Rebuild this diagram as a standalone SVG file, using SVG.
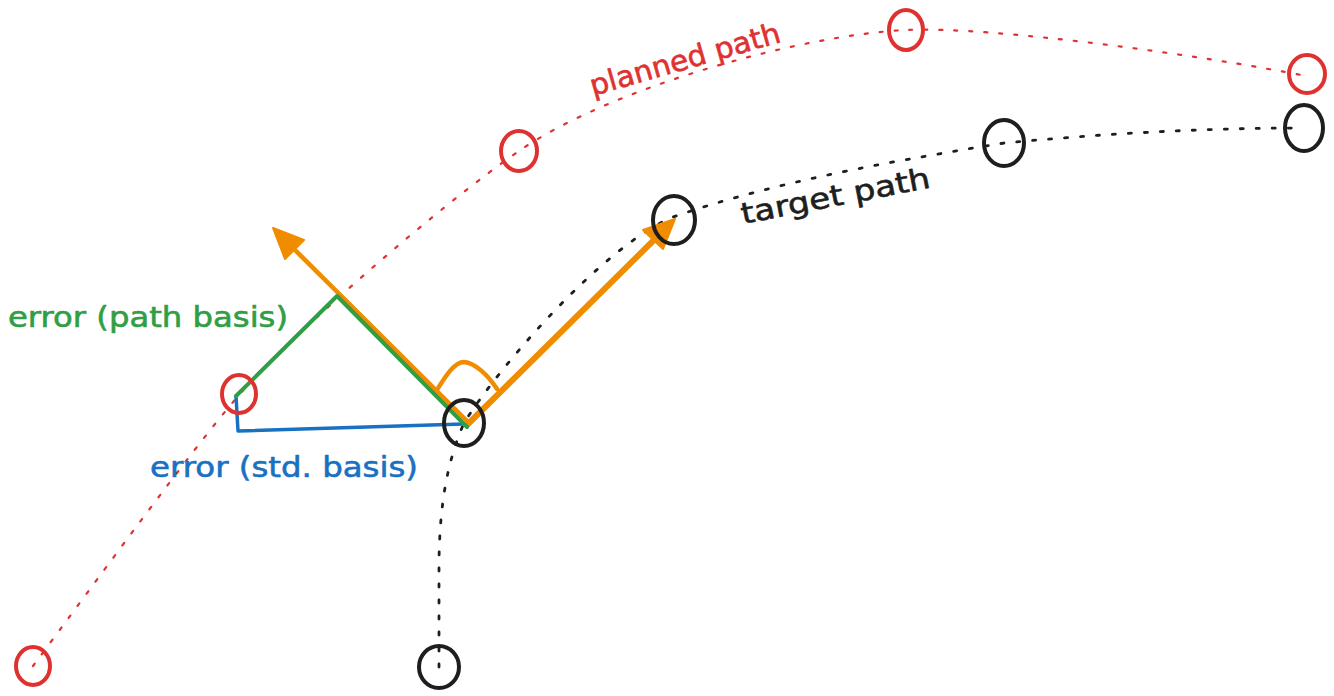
<svg xmlns="http://www.w3.org/2000/svg" width="1334" height="696" viewBox="0 0 1334 696">
  <style>
    .bg { fill: #ffffff; }
    .planned { fill: none; stroke: #e03131; stroke-width: 2.2; stroke-dasharray: 3 12; stroke-linecap: round; }
    .target { fill: none; stroke: #1e1e1e; stroke-width: 2.8; stroke-dasharray: 3 13; stroke-linecap: round; }
    .wp-red { fill: none; stroke: #e03131; stroke-width: 4; }
    .wp-black { fill: none; stroke: #1e1e1e; stroke-width: 4; }
    .err-std { fill: none; stroke: #1971c2; stroke-width: 3.5; stroke-linecap: round; stroke-linejoin: round; }
    .err-path { fill: none; stroke: #2f9e44; stroke-width: 4; stroke-linecap: round; stroke-linejoin: round; }
    .vec { fill: none; stroke: #f08c00; stroke-linecap: round; stroke-linejoin: round; }
    .head { fill: #f08c00; stroke: #f08c00; stroke-width: 2; stroke-linejoin: round; }
    .label { font-family: "DejaVu Sans", "Noto Sans", sans-serif; stroke-width: 0.6; stroke-linejoin: round; }
  </style>

  <rect class="bg" x="0" y="0" width="1334" height="696"/>

  <!-- connectors: paths, error components and basis vectors -->
  <g id="connectors">
    <path id="planned-path" class="planned" d="M33,666 C100,576 190,452 239,395 C290,336 440,205 519,151 C610,88 800,35 906,30 C990,26 1200,55 1306,76"/>
    <path id="target-path" class="target" d="M439,667 L439,560 C440,500 448,460 464,423 C500,365 605,245 673,217 C780,180 900,160 1004,143 C1100,134 1200,128 1304,128"/>

    <path id="error-std" class="err-std" d="M236,396 L238,431 L463,424"/>

    <g id="normal-vector">
      <path class="vec" stroke-width="4.5" d="M469,423 L292,247"/>
      <polygon class="head" points="273,228 304,240 285,259"/>
    </g>
    <g id="tangent-vector">
      <path class="vec" stroke-width="6" d="M467,425 L658,236"/>
      <polygon class="head" points="675,219 643,230 663,249"/>
    </g>
    <path id="right-angle" class="vec" stroke-width="4.5" d="M435,393 C445,377 454,362 464,362 C475,363 488,375 497,389"/>

    <path id="error-path" class="err-path" d="M236,396 L337,296 L467,427"/>
  </g>

  <!-- planned waypoints -->
  <g id="planned-0"><ellipse class="wp-red" cx="33" cy="666" rx="17" ry="19"/></g>
  <g id="planned-1"><ellipse class="wp-red" cx="239" cy="394" rx="17" ry="19"/></g>
  <g id="planned-2"><ellipse class="wp-red" cx="519" cy="151" rx="18" ry="20"/></g>
  <g id="planned-3"><ellipse class="wp-red" cx="906" cy="30" rx="17" ry="20"/></g>
  <g id="planned-4"><ellipse class="wp-red" cx="1307" cy="74" rx="18" ry="19"/></g>

  <!-- target waypoints -->
  <g id="target-0"><ellipse class="wp-black" cx="439" cy="667" rx="20" ry="21"/></g>
  <g id="target-1"><ellipse class="wp-black" cx="464" cy="423" rx="20" ry="23"/></g>
  <g id="target-2"><ellipse class="wp-black" cx="674" cy="220" rx="21" ry="24"/></g>
  <g id="target-3"><ellipse class="wp-black" cx="1004" cy="143" rx="20" ry="23"/></g>
  <g id="target-4"><ellipse class="wp-black" cx="1304" cy="128" rx="19" ry="23"/></g>

  <!-- labels -->
  <g id="label-planned">
    <text class="label" x="593" y="96" font-size="29" fill="#e03131" stroke="#e03131" textLength="197" lengthAdjust="spacingAndGlyphs" transform="rotate(-16 593 96)">planned path</text>
  </g>
  <g id="label-target">
    <text class="label" x="743" y="224" font-size="29" fill="#1e1e1e" stroke="#1e1e1e" textLength="192" lengthAdjust="spacingAndGlyphs" transform="rotate(-11 743 224)">target path</text>
  </g>
  <g id="label-error-path">
    <text class="label" x="8" y="327" font-size="28" fill="#2f9e44" stroke="#2f9e44" textLength="280" lengthAdjust="spacingAndGlyphs">error (path basis)</text>
  </g>
  <g id="label-error-std">
    <text class="label" x="150" y="477" font-size="28" fill="#1971c2" stroke="#1971c2" textLength="268" lengthAdjust="spacingAndGlyphs">error (std. basis)</text>
  </g>
</svg>
